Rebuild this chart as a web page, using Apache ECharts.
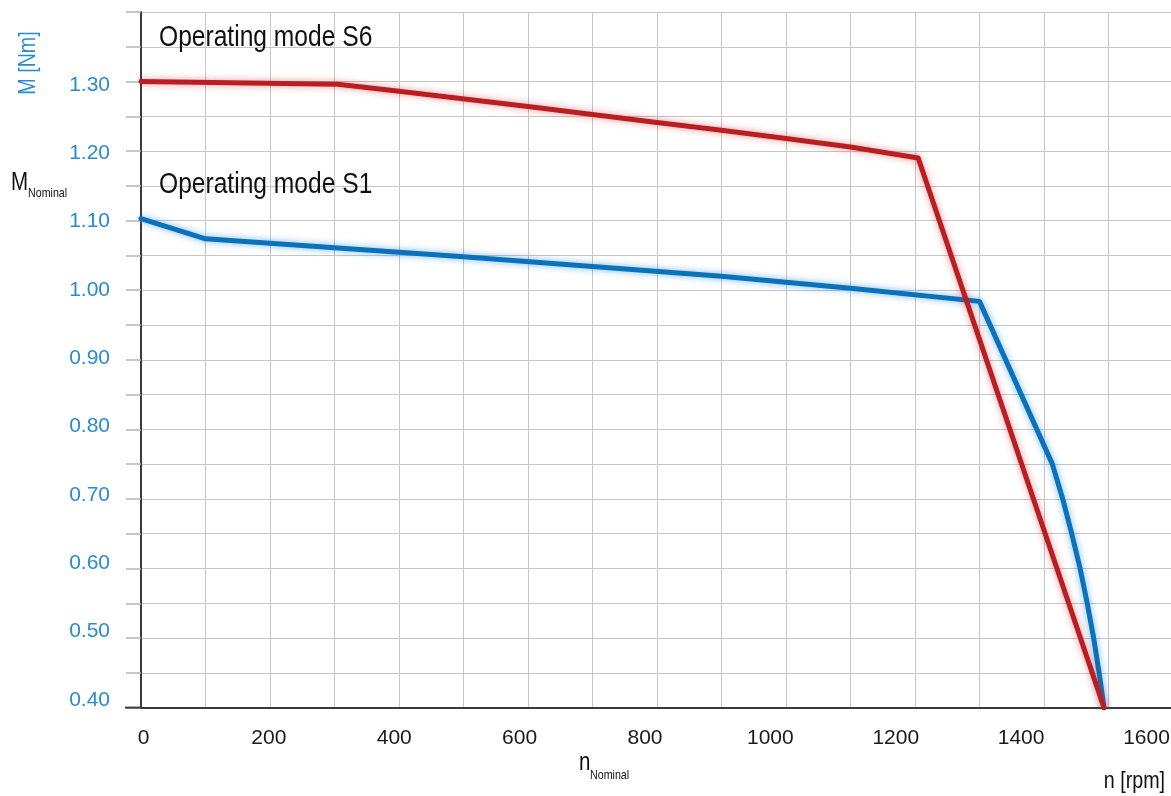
<!DOCTYPE html>
<html>
<head>
<meta charset="utf-8">
<script src="https://cdn.jsdelivr.net/npm/echarts@6/dist/echarts.min.js"></script>
<style>
html,body{margin:0;padding:0;background:#fff;}
#c{width:1171px;height:796px;}
</style>
</head>
<body>
<div id="c"></div>
<script>
// ---- data ----
const s1Rpm    = [0, 100, 300, 500, 700, 900, 1100, 1300, 1413, 1429, 1443, 1456, 1467, 1477, 1485.5, 1493];
const s1Torque = [1.103, 1.074, 1.061, 1.048, 1.034, 1.020, 1.003, 0.984, 0.750, 0.700, 0.650, 0.600, 0.550, 0.500, 0.450, 0.400];
const s6Rpm    = [0, 305, 400, 600, 800, 900, 1000, 1100, 1205, 1493];
const s6Torque = [1.300, 1.296, 1.286, 1.264, 1.241, 1.230, 1.218, 1.206, 1.190, 0.400];
const xTickValues = [0, 200, 400, 600, 800, 1000, 1200, 1400, 1600];
const xTickLabels = ['0', '200', '400', '600', '800', '1000', '1200', '1400', '1600'];
const yTickValues = [0.4, 0.5, 0.6, 0.7, 0.8, 0.9, 1.0, 1.1, 1.2, 1.3];
const yTickLabels = ['0.40', '0.50', '0.60', '0.70', '0.80', '0.90', '1.00', '1.10', '1.20', '1.30'];
const seriesNames = ['Operating mode S1', 'Operating mode S6'];

const FONT = "'Liberation Sans', Arial, sans-serif";
const RED = '#bb1e22', BLUE = '#0a72bb', LBLUE = '#2a8ad2';
const GRIDC = '#c6c6c6', AXC = '#3a3a3a';
const SX = 0.82; // condensed look

const pairs = (xs, ys) => xs.map((x, i) => [x, ys[i]]);

function txt(text, x, y, size, color, align, extra) {
  return Object.assign({
    type: 'text', x: x, y: y, scaleX: SX, z: 10,
    style: {text: text, font: size + 'px ' + FONT, fill: color, textAlign: align, textVerticalAlign: 'middle'}
  }, extra || {});
}

const chart = echarts.init(document.getElementById('c'), null, {renderer: 'canvas'});
chart.setOption({
  animation: false,
  backgroundColor: '#fff',
  grid: {left: 141, top: 12, width: 1032, height: 695.6, containLabel: false, outerBoundsMode: 'none'},
  xAxis: [{
    type: 'value', min: 0, max: 1600, interval: 100,
    axisLine: {show: true, onZero: false, lineStyle: {color: AXC, width: 2}},
    axisTick: {show: false},
    axisLabel: {show: false},
    splitLine: {show: true, lineStyle: {color: GRIDC, width: 1}}
  }, {
    type: 'value', min: -4, max: 1642.3, position: 'bottom', offset: 0,
    axisLine: {show: false}, axisTick: {show: false}, splitLine: {show: false},
    axisLabel: {
      show: true, customValues: xTickValues, margin: 20,
      color: '#1a1a1a', fontSize: 21, fontFamily: FONT,
      formatter: v => xTickLabels[xTickValues.indexOf(v)]
    }
  }],
  yAxis: [{
    type: 'value', min: 0.4, max: 1.4, interval: 0.05,
    axisLine: {show: true, onZero: false, lineStyle: {color: AXC, width: 2}},
    axisTick: {show: true, inside: false, length: 15, lineStyle: {color: '#b5b5b5', width: 1.5}},
    axisLabel: {show: false},
    splitLine: {show: true, lineStyle: {color: GRIDC, width: 1}}
  }, {
    type: 'value', min: 0.3887, max: 1.4067, position: 'left', offset: 0,
    axisLine: {show: false}, axisTick: {show: false}, splitLine: {show: false},
    axisLabel: {
      show: true, customValues: yTickValues, margin: 31,
      color: LBLUE, fontSize: 21, fontFamily: FONT,
      formatter: v => yTickLabels[yTickValues.findIndex(t => Math.abs(t - v) < 1e-6)]
    }
  }],
  series: [{
    name: seriesNames[0], type: 'line', xAxisIndex: 0, yAxisIndex: 0,
    data: pairs(s1Rpm, s1Torque), showSymbol: false, smooth: false,
    lineStyle: {color: BLUE, width: 5, shadowBlur: 7, shadowColor: 'rgba(0,120,215,0.55)', join: 'round', cap: 'round'},
    z: 3
  }, {
    name: seriesNames[1], type: 'line', xAxisIndex: 0, yAxisIndex: 0,
    data: pairs(s6Rpm, s6Torque), showSymbol: false, smooth: false,
    lineStyle: {color: RED, width: 5, shadowBlur: 7, shadowColor: 'rgba(200,40,40,0.5)', join: 'round', cap: 'round'},
    z: 4
  }],
  graphic: [
    {type: 'line', z: 5, shape: {x1: 125, y1: 707.6, x2: 142, y2: 707.6}, style: {stroke: AXC, lineWidth: 2}},
    txt(seriesNames[1], 159, 38, 30, '#111', 'left'),
    txt(seriesNames[0], 159, 185, 30, '#111', 'left'),
    txt('M [Nm]', 28, 63, 24, LBLUE, 'center', {rotation: Math.PI / 2}),
    txt('M', 11, 183, 25, '#111', 'left'),
    txt('Nominal', 28, 193.6, 13, '#111', 'left'),
    txt('n', 579, 763, 25, '#111', 'left'),
    txt('Nominal', 590, 775.6, 13, '#111', 'left'),
    txt('n [rpm]', 1165, 781, 24, '#111', 'right')
  ]
});
</script>
</body>
</html>
